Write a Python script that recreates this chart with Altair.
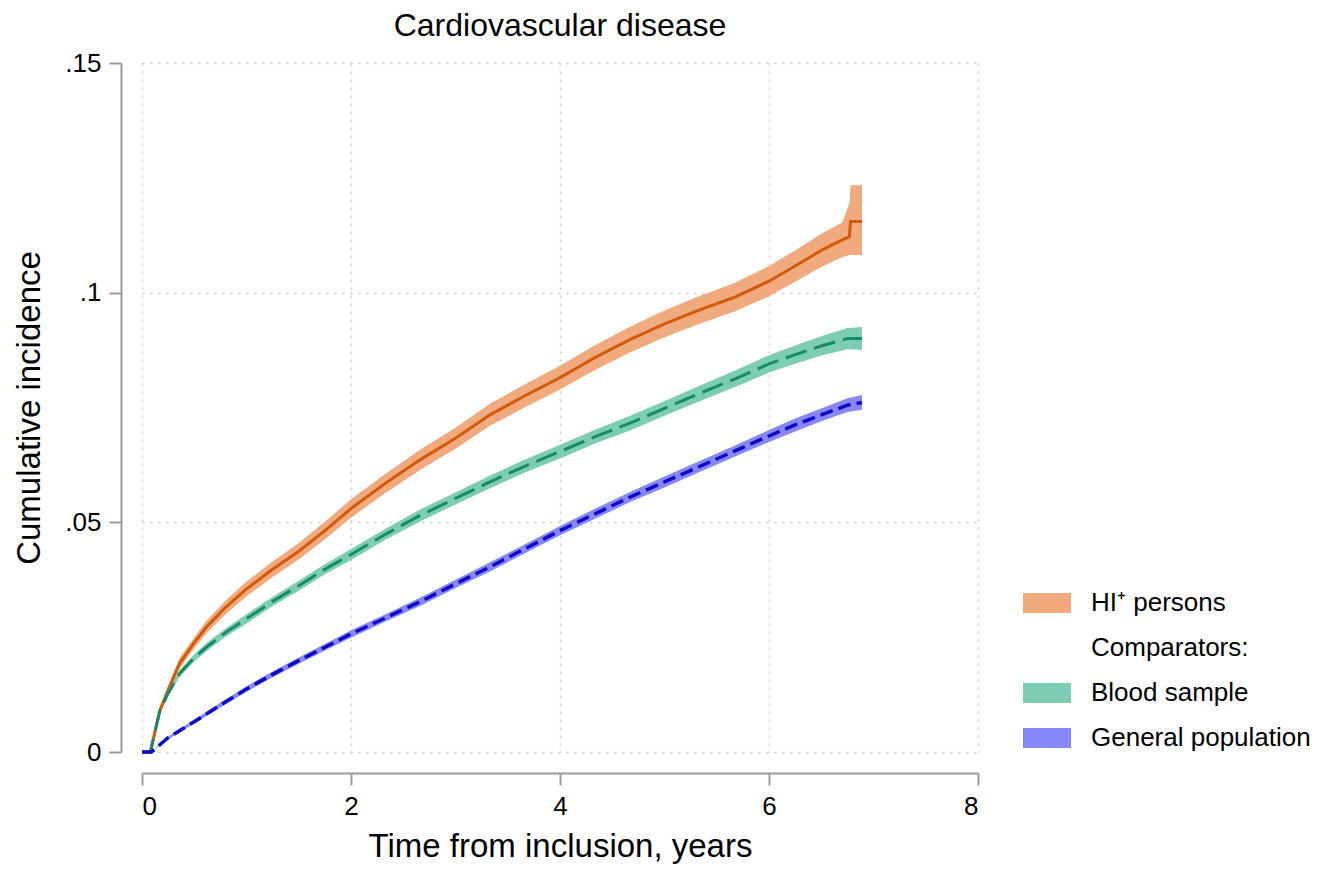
import altair as alt
import pandas as pd

# ---- data ----
series_names = ["HI⁺ persons", "Comparators:", "Blood sample", "General population"]

t_hi = [0, 0.08, 0.12, 0.17, 0.25, 0.36, 0.5, 0.62, 0.8, 1.0, 1.25, 1.5, 1.75, 2.0, 2.33, 2.66,
        3.0, 3.33, 3.66, 4.0, 4.33, 4.67, 5.0, 5.33, 5.67, 6.0, 6.25, 6.5, 6.7, 6.77, 6.78, 6.89]
v_hi = [0, 0, .004, .009, .0135, .0193, .0238, .0273, .0315, .0355, .0398, .0437, .0482, .0530, .0585, .0636,
        .0683, .0734, .0775, .0815, .0858, .0898, .0932, .0962, .0990, .1025, .1058, .1092, .1115, .1122, .1155, .1155]
lo_hi = [0, 0, .0035, .0083, .0126, .0182, .0226, .0259, .030, .0339, .0381, .0419, .0463, .0510, .0564, .0614,
         .066, .071, .075, .0789, .0831, .0870, .0903, .0932, .0959, .0992, .1024, .1056, .1077, .1082, .1082, .1082]
hi_hi = [0, 0, .0045, .0097, .0144, .0204, .025, .0287, .033, .0371, .0415, .0455, .0501, .0550, .0606, .0658,
         .0706, .0758, .080, .0841, .0885, .0926, .0961, .0992, .1021, .1058, .1092, .1128, .1153, .1195, .1234, .1234]

t_bs = [0, 0.08, 0.12, 0.17, 0.25, 0.36, 0.5, 0.62, 0.8, 1.0, 1.25, 1.5, 1.75, 2.0, 2.33, 2.66,
        3.0, 3.33, 3.66, 4.0, 4.33, 4.67, 5.0, 5.33, 5.67, 6.0, 6.25, 6.5, 6.75, 6.89]
v_bs = [0, 0, .004, .0089, .0128, .0171, .0205, .0229, .026, .029, .0328, .0362, .0398, .043, .0474, .0515,
        .0552, .0588, .0622, .0654, .0686, .0716, .0748, .078, .0812, .0845, .0865, .0884, .090, .090]
lo_bs = [0, 0, .0036, .0084, .0122, .0164, .0197, .022, .0251, .028, .0318, .0351, .0387, .0418, .0462, .0502,
         .0539, .0574, .0608, .0639, .0671, .070, .0732, .0763, .0794, .0826, .0845, .0863, .0877, .0875]
hi_bs = [0, 0, .0044, .0094, .0134, .0178, .0213, .0238, .0269, .030, .0338, .0373, .0409, .0442, .0486, .0528,
         .0565, .0602, .0636, .0669, .0701, .0732, .0764, .0797, .0830, .0864, .0885, .0905, .0923, .0925]

t_gp = [0, 0.09, 0.25, 0.5, 0.75, 1.0, 1.25, 1.5, 1.75, 2.0, 2.33, 2.66, 3.0, 3.33, 3.66, 4.0,
        4.33, 4.67, 5.0, 5.33, 5.67, 6.0, 6.25, 6.5, 6.75, 6.89]
v_gp = [0, 0, .0031, .0066, .0102, .0137, .0169, .0199, .0228, .0257, .0292, .0327, .0366, .0403, .0442, .0482,
        .0518, .0555, .0588, .0621, .0655, .0688, .0712, .0734, .0755, .0761]
lo_gp = [0, 0, .0028, .0062, .0097, .0131, .0163, .0192, .0221, .0249, .0284, .0318, .0357, .0393, .0432, .0472,
         .0507, .0544, .0576, .0609, .0643, .0675, .0698, .072, .074, .0745]
hi_gp = [0, 0, .0034, .0070, .0107, .0143, .0175, .0206, .0235, .0265, .030, .0336, .0375, .0413, .0452, .0492,
         .0529, .0566, .060, .0633, .0667, .0701, .0726, .0748, .077, .0777]

x_ticks = [0, 2, 4, 6, 8]
y_ticks = [0, 0.05, 0.1, 0.15]

band_colors = ["#F0AA7D", "#FFFFFF", "#7DCDB4", "#8787FA"]
FONT = "Liberation Sans"


def frame(name, t, v, lo, hi):
    return pd.DataFrame({"series": name, "t": t, "v": v, "lo": lo, "hi": hi})


df = pd.concat([
    frame(series_names[0], t_hi, v_hi, lo_hi, hi_hi),
    frame(series_names[2], t_bs, v_bs, lo_bs, hi_bs),
    frame(series_names[3], t_gp, v_gp, lo_gp, hi_gp),
], ignore_index=True)

x_scale = alt.Scale(domain=[0, 8], nice=False, zero=False)
y_scale = alt.Scale(domain=[0, 0.15], nice=False, zero=False)

x_axis = alt.Axis(values=x_ticks, title="Time from inclusion, years", offset=21,
                  domainColor="#9A9A9A", domainWidth=2, tickColor="#9A9A9A", tickWidth=2, tickSize=12,
                  labelFont=FONT, labelFontSize=26, labelColor="black", labelPadding=8,
                  titleFont=FONT, titleFontSize=33, titleFontWeight="normal", titleColor="black",
                  titlePadding=11, grid=True, gridColor="#C8C8C8", gridDash=[2, 6], gridWidth=1.5)
y_axis = alt.Axis(values=y_ticks, title="Cumulative incidence", offset=21,
                  labelExpr="datum.value == 0 ? '0' : replace(toString(datum.value), '0.', '.')",
                  domainColor="#9A9A9A", domainWidth=2, tickColor="#9A9A9A", tickWidth=2, tickSize=12,
                  labelFont=FONT, labelFontSize=26, labelColor="black", labelPadding=8,
                  titleFont=FONT, titleFontSize=33, titleFontWeight="normal", titleColor="black",
                  titlePadding=18, grid=True, gridColor="#C8C8C8", gridDash=[2, 6], gridWidth=1.5)

legend = alt.Legend(title=None, orient="none", legendX=881, legendY=516, padding=0,
                    symbolType="M-1,-0.42H1V0.42H-1Z", symbolSize=2304, symbolStrokeWidth=0,
                    symbolOpacity=1, labelFont=FONT, labelFontSize=26, labelColor="black",
                    labelOffset=20, rowPadding=8, labelLimit=400)

bands = alt.Chart(df).mark_area(opacity=1).encode(
    x=alt.X("t:Q", scale=x_scale, axis=x_axis),
    y=alt.Y("lo:Q", scale=y_scale, axis=y_axis, stack=None),
    y2="hi:Q",
    color=alt.Color("series:N", scale=alt.Scale(domain=series_names, range=band_colors), legend=legend),
)


def line(name, color, width, dash=None):
    kw = dict(color=color, strokeWidth=width)
    if dash is not None:
        kw["strokeDash"] = dash
    return alt.Chart(df).transform_filter(alt.datum.series == name).mark_line(**kw).encode(
        x=alt.X("t:Q", scale=x_scale, axis=x_axis),
        y=alt.Y("v:Q", scale=y_scale, axis=y_axis),
    )


lines = [
    line(series_names[0], "#D25A0A", 3),
    line(series_names[2], "#168C64", 3, [22, 8]),
    line(series_names[3], "#0A0AC8", 3.5, [13, 6]),
]

chart = alt.layer(bands, *lines).properties(
    width=836, height=689,
    title=alt.TitleParams("Cardiovascular disease", font=FONT, fontSize=32, fontWeight="normal",
                          color="black", anchor="middle", offset=7),
    autosize=alt.AutoSizeParams(type="none"),
    padding={"left": 134, "top": 55, "right": 340, "bottom": 112},
    background="white",
).configure_view(stroke=None)

chart.save("out.html", embed_options={"renderer": "svg", "actions": False})
